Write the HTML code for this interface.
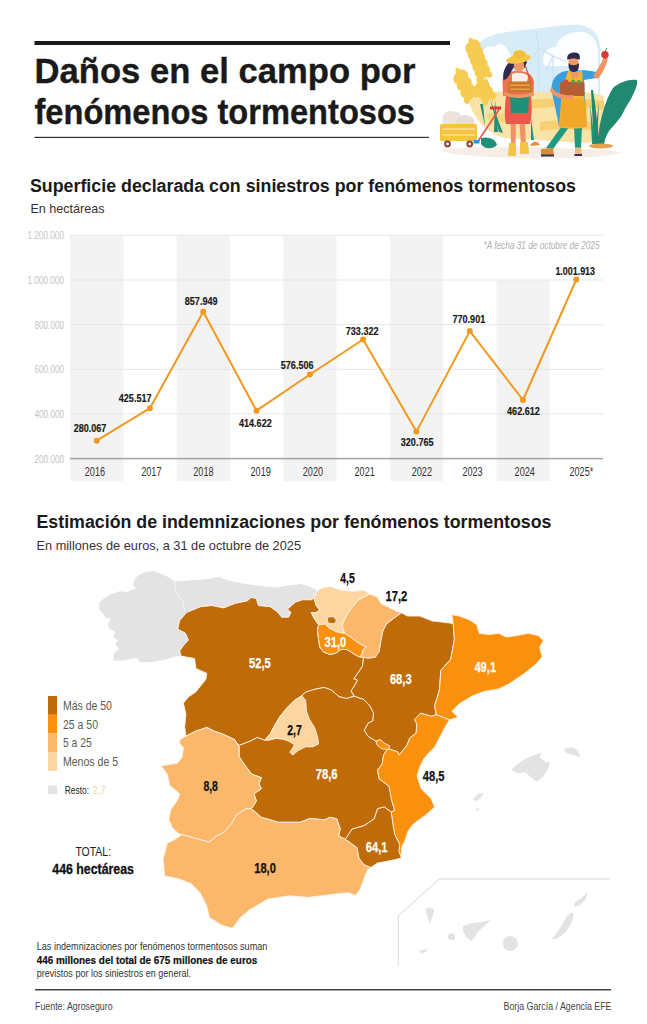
<!DOCTYPE html>
<html><head><meta charset="utf-8"><style>
html,body{margin:0;padding:0;background:#fff;overflow:hidden;width:647px;height:1024px;}
svg{display:block;}
text{font-family:"Liberation Sans", sans-serif;}
</style></head><body>
<svg width="647" height="1024" viewBox="0 0 647 1024" font-family='"Liberation Sans", sans-serif'>
<rect width="647" height="1024" fill="#fff"/>
<g id="illu">
<path d="M440,150 C470,146 520,146 560,148 C590,149 615,150 622,153 C600,158 560,159 520,158 C480,157 450,155 440,150 Z" fill="#f6ede6"/>
<path d="M479,44 C484,37 495,33 515,31 C540,29 562,24 580,25 C593,27 599,35 600,46 L600,98 L480,98 Z" fill="#d8ecf8"/>
<path d="M483,100 L482,56 C481,49 488,45 494,47 C498,42 507,44 508,52 C512,54 512,60 510,64 L506,100 Z" fill="#fdfeff"/>
<path d="M545,66 C540,57 546,47 556,47 C558,37 570,31 582,32 C594,33 599,44 598,56 L598,98 L578,98 L578,66 Z" fill="#fdfeff"/>
<g stroke="#c8e2f3" stroke-width="1.2" fill="none">
<line x1="538.5" y1="48" x2="538.5" y2="98"/><line x1="538.5" y1="48" x2="529" y2="66"/><line x1="538.5" y1="48" x2="553" y2="56"/><line x1="538.5" y1="48" x2="536" y2="31"/>
<line x1="553" y1="56" x2="553" y2="98"/><line x1="553" y1="56" x2="546" y2="71"/><line x1="553" y1="56" x2="566" y2="62"/>
</g>
<path d="M466,92 C472,120 488,134 505,138 L585,143 C600,141 606,132 605,118 L604,96 C585,90 560,90 530,93 C505,92 484,90 466,92 Z" fill="#f9e3a6"/>
<path d="M528,100 C555,97 585,98 604,101 L604,110 C580,106 555,106 528,109 Z" fill="#f6d073"/>
<path d="M540,122 C560,119 585,120 604,124 L602,132 C580,128 560,128 540,131 Z" fill="#f6d073"/>
<path d="M486,114 C500,113 512,114 520,116 L520,124 C505,122 495,122 490,123 Z" fill="#f7d57f"/>
<g id="wheat">
<ellipse cx="478.0" cy="60.0" rx="5.3" ry="19.3" transform="rotate(-21 478.0 60.0)" fill="#f5cb52"/>
<ellipse cx="476.2" cy="43.4" rx="3.3" ry="5.2" transform="rotate(-49 476.2 43.4)" fill="#f5cb52"/>
<ellipse cx="468.7" cy="48.0" rx="3.3" ry="5.2" transform="rotate(7 468.7 48.0)" fill="#f5cb52"/>
<ellipse cx="478.5" cy="49.4" rx="3.3" ry="5.2" transform="rotate(-49 478.5 49.4)" fill="#f5cb52"/>
<ellipse cx="471.0" cy="54.0" rx="3.3" ry="5.2" transform="rotate(7 471.0 54.0)" fill="#f5cb52"/>
<ellipse cx="480.8" cy="55.4" rx="3.3" ry="5.2" transform="rotate(-49 480.8 55.4)" fill="#f5cb52"/>
<ellipse cx="473.4" cy="60.0" rx="3.3" ry="5.2" transform="rotate(7 473.4 60.0)" fill="#f5cb52"/>
<ellipse cx="483.2" cy="61.4" rx="3.3" ry="5.2" transform="rotate(-49 483.2 61.4)" fill="#f5cb52"/>
<ellipse cx="475.7" cy="66.0" rx="3.3" ry="5.2" transform="rotate(7 475.7 66.0)" fill="#f5cb52"/>
<ellipse cx="485.5" cy="67.4" rx="3.3" ry="5.2" transform="rotate(-49 485.5 67.4)" fill="#f5cb52"/>
<ellipse cx="478.0" cy="72.0" rx="3.3" ry="5.2" transform="rotate(7 478.0 72.0)" fill="#f5cb52"/>
<ellipse cx="487.8" cy="73.4" rx="3.3" ry="5.2" transform="rotate(-49 487.8 73.4)" fill="#f5cb52"/>
<ellipse cx="480.4" cy="78.0" rx="3.3" ry="5.2" transform="rotate(7 480.4 78.0)" fill="#f5cb52"/>
<ellipse cx="471.4" cy="42.9" rx="2.6" ry="5.2" transform="rotate(-21 471.0 42.0)" fill="#f5cb52"/>
<ellipse cx="484.5" cy="91.0" rx="5.3" ry="10.5" transform="rotate(-31 484.5 91.0)" fill="#f5cb52"/>
<ellipse cx="484.5" cy="82.8" rx="3.3" ry="5.2" transform="rotate(-59 484.5 82.8)" fill="#f5cb52"/>
<ellipse cx="477.9" cy="88.5" rx="3.3" ry="5.2" transform="rotate(-3 477.9 88.5)" fill="#f5cb52"/>
<ellipse cx="488.2" cy="88.8" rx="3.3" ry="5.2" transform="rotate(-59 488.2 88.8)" fill="#f5cb52"/>
<ellipse cx="481.6" cy="94.5" rx="3.3" ry="5.2" transform="rotate(-3 481.6 94.5)" fill="#f5cb52"/>
<ellipse cx="491.8" cy="94.8" rx="3.3" ry="5.2" transform="rotate(-59 491.8 94.8)" fill="#f5cb52"/>
<ellipse cx="485.3" cy="100.5" rx="3.3" ry="5.2" transform="rotate(-3 485.3 100.5)" fill="#f5cb52"/>
<ellipse cx="479.5" cy="82.9" rx="2.6" ry="5.2" transform="rotate(-31 479.0 82.0)" fill="#f5cb52"/>
<ellipse cx="465.0" cy="85.5" rx="5.3" ry="15.2" transform="rotate(-27 465.0 85.5)" fill="#f5cb52"/>
<ellipse cx="463.6" cy="73.4" rx="3.3" ry="5.2" transform="rotate(-55 463.6 73.4)" fill="#f5cb52"/>
<ellipse cx="456.6" cy="78.7" rx="3.3" ry="5.2" transform="rotate(1 456.6 78.7)" fill="#f5cb52"/>
<ellipse cx="467.1" cy="80.1" rx="3.3" ry="5.2" transform="rotate(-55 467.1 80.1)" fill="#f5cb52"/>
<ellipse cx="460.1" cy="85.4" rx="3.3" ry="5.2" transform="rotate(1 460.1 85.4)" fill="#f5cb52"/>
<ellipse cx="470.6" cy="86.9" rx="3.3" ry="5.2" transform="rotate(-55 470.6 86.9)" fill="#f5cb52"/>
<ellipse cx="463.6" cy="92.2" rx="3.3" ry="5.2" transform="rotate(1 463.6 92.2)" fill="#f5cb52"/>
<ellipse cx="474.1" cy="93.6" rx="3.3" ry="5.2" transform="rotate(-55 474.1 93.6)" fill="#f5cb52"/>
<ellipse cx="467.1" cy="98.9" rx="3.3" ry="5.2" transform="rotate(1 467.1 98.9)" fill="#f5cb52"/>
<ellipse cx="458.5" cy="72.9" rx="2.6" ry="5.2" transform="rotate(-27 458.0 72.0)" fill="#f5cb52"/>
<path d="M486,78 C488,84 491,92 493,102" stroke="#f2c74a" stroke-width="1.4" fill="none"/></g>
<g fill="#21907a">
<path d="M480,104 L485,126 L483,104 Z"/><path d="M490,99 L503,133 L499,132 Z"/><path d="M495,100 L498,132 L494,132 Z"/>
<path d="M590,103 L595,144 L592,144 Z"/><path d="M599,101 L597,144 L594,144 Z"/>
<path d="M531,118 L534,140 L531,140 Z"/>
</g>
<path d="M443,125 C441,117 444,111 450,111 L458,112 C462,114 462,120 461,125 Z" fill="#ece4dd"/><path d="M456,125 C455,119 459,115 465,115 L470,116 C474,118 475,121 474,125 Z" fill="#e6ddd5"/>
<rect x="440" y="124" width="37" height="17" rx="1.5" fill="#f5c540"/>
<rect x="442" y="128" width="33" height="2" fill="#f9da80"/><rect x="442" y="134" width="33" height="2" fill="#f9da80"/>
<circle cx="447.5" cy="144" r="3.4" fill="#8b4a2c"/><circle cx="447.5" cy="144" r="1.4" fill="#fff"/>
<circle cx="469.7" cy="144" r="3.4" fill="#8b4a2c"/><circle cx="469.7" cy="144" r="1.4" fill="#fff"/>
<line x1="500" y1="108" x2="477.5" y2="142" stroke="#e0584a" stroke-width="1.6"/>
<rect x="490" y="106.5" width="11" height="3" fill="#d9393b"/>
<rect x="473.5" y="140" width="6" height="3.5" fill="#3e8ed6"/>
<path d="M481,138 C488,136 496,139 497,145 C492,150 484,149 481,144 Z" fill="#1f8f79"/>
<!-- woman -->
<path d="M510.5,124 L516,124 L515.5,146 L511,146 Z" fill="#ee9464"/>
<path d="M519.5,124 L525,124 L526,145 L521,145 Z" fill="#ee9464"/>
<path d="M509,143 L516,143 L516,156 L508,156 Z" fill="#f2c544"/>
<path d="M520,142 L528,142 L529,154 L520,154 Z" fill="#f2c544"/>
<path d="M506,96 L531,96 C532,108 532,116 530,124 L506,124 C504,116 505,105 506,96 Z" fill="#e9594b"/>
<path d="M510,96 L529,96 L528,113 L511,113 Z" fill="#20907a"/>
<path d="M502.5,82 C502,74 508,71 518,71 C528,71 533,75 534,82 L533.5,96 L503,96 Z" fill="#ec744f"/>
<path d="M503.5,80 C502,72 506,64 512,60 L518,59 C516,64 513,68 511,72 C509,76 507,79 503.5,80 Z" fill="#2f2b4e"/>
<path d="M511,62 C512,58 526,58 527,62 L525,67 C523,70 515,70 513,67 Z" fill="#2f2b4e"/><ellipse cx="519" cy="66" rx="5.3" ry="5.8" fill="#ef9766"/>
<ellipse cx="518.5" cy="59" rx="12.5" ry="4.4" transform="rotate(-10 518.5 59)" fill="#f5c746"/><ellipse cx="519.5" cy="54.5" rx="6.5" ry="4.3" fill="#f3bf3a"/>
<path d="M512,74 C516,72 524,72 528,76 L527,82 L512,82 Z" fill="#f7f1e8"/>
<rect x="508" y="81.5" width="24" height="11" rx="1" fill="#c9762c"/>
<rect x="510" y="84.5" width="20" height="1.5" fill="#e8a34a"/><rect x="510" y="88.5" width="20" height="1.5" fill="#e8a34a"/>
<path d="M504,92 C512,96 526,96 534,91 L534,95 C526,99 512,99 504,95 Z" fill="#ef9766"/>
<line x1="525" y1="65" x2="531" y2="82" stroke="#d24d3f" stroke-width="1.1"/>
<!-- man -->
<path d="M562,126 L570,126 L553,149 L546,148 Z" fill="#1f9a7e"/>
<path d="M574,126 L582,126 L581,148 L575,148 Z" fill="#1f9a7e"/>
<path d="M541,149 L553,148 L554,155 L541,156 Z" fill="#d98b3a"/>
<rect x="575" y="147.5" width="6.5" height="7.5" fill="#e9b98a"/>
<rect x="541" y="154.5" width="13" height="2" fill="#3c2f55"/><rect x="574.5" y="154" width="7.5" height="2" fill="#3c2f55"/>
<path d="M551.5,90 C551,78 558,71 570,70.5 C582,70 590,70 596,72 L596,78 L584,80 L586,126 L559,126 Z" fill="#3ba0d9"/>
<path d="M568,71 L582,71 L586,127 C580,129 566,129 559,127 L562,90 Z" fill="#f6b52d"/>
<path d="M562,100 C570,98 580,98 586,101 L587,127 L560,127 Z" fill="#f1a72a"/>
<path d="M570,71 L580,71 L578,78 L572,78 Z" fill="#ef9766"/>
<path d="M593,76 C597,70 601,64 604,57 L608,58.5 C606,66 603,73 598,79 Z" fill="#ef9464"/>
<circle cx="605" cy="54.8" r="3.7" fill="#d93a3a"/>
<path d="M605,51 L607,48" stroke="#2c8a4a" stroke-width="1"/>
<rect x="560" y="82" width="24.5" height="14" rx="1.5" fill="#b25e33"/>
<circle cx="566" cy="82" r="2.6" fill="#d9463a"/><circle cx="573" cy="81.5" r="2" fill="#58a048"/><circle cx="579" cy="82" r="2" fill="#5aa04a"/>
<path d="M552,87 C555,94 566,96 574,95 L573,99 C563,100 552,97 550,90 Z" fill="#ef9464"/>
<ellipse cx="573.5" cy="62" rx="5" ry="5.5" fill="#ef9766"/>
<path d="M568.5,63 C568,70 571,72 574,72 C578,72 579,69 579,63 C576,66 571,66 568.5,63 Z" fill="#2f2b4e"/>
<path d="M567.5,60 C566,54 571,52 575,52.5 C580,53 580.5,56 579.5,60 C576,58 571,58 567.5,60 Z" fill="#2f2b4e"/>
<!-- big leaf -->
<path d="M597,146 C599,124 604,102 613,88 C620,82 629,79 637,80 C638,86 634,92 631,99 C628,104 625,108 623,113 C620,119 613,126 609,131 C606,136 604,141 604,146 Z" fill="#20896f"/>
<path d="M594,146 C593,128 592,108 591,90 L593,90 C596,108 598,128 599,146 Z" fill="#20896f"/>
<ellipse cx="601" cy="146" rx="12" ry="2.5" fill="#e9a04c"/>
<circle cx="536" cy="142" r="3" fill="#eeeeee"/><path d="M530,146 C532,141 538,141 540,145 Z" fill="#e88a3a"/>
</g>


<rect x="34.5" y="41" width="415.5" height="4" fill="#1a1a1a"/>
<text x="34.5" y="83.4" font-size="35" font-weight="bold" fill="#1a1a1a" stroke="#1a1a1a" stroke-width="0.35" textLength="381" lengthAdjust="spacingAndGlyphs">Daños en el campo por</text>
<text x="34.5" y="124.2" font-size="35" font-weight="bold" fill="#1a1a1a" stroke="#1a1a1a" stroke-width="0.35" textLength="380.5" lengthAdjust="spacingAndGlyphs">fenómenos tormentosos</text>
<rect x="34.5" y="136.8" width="394.5" height="1.2" fill="#333"/>
<text x="30" y="192.4" font-size="18" font-weight="bold" fill="#1a1a1a" textLength="546" lengthAdjust="spacingAndGlyphs">Superficie declarada con siniestros por fenómenos tormentosos</text>
<text x="30.4" y="213" font-size="12.6" fill="#333" textLength="74.2" lengthAdjust="spacingAndGlyphs">En hectáreas</text><rect x="70.0" y="235.3" width="53.3" height="245.7" fill="#f3f3f3"/><rect x="176.6" y="235.3" width="53.3" height="245.7" fill="#f3f3f3"/><rect x="283.2" y="235.3" width="53.3" height="245.7" fill="#f3f3f3"/><rect x="389.8" y="235.3" width="53.3" height="245.7" fill="#f3f3f3"/><rect x="496.4" y="280.5" width="53.3" height="200.5" fill="#f3f3f3"/><rect x="70.0" y="234.8" width="533" height="1" fill="#e6e6e6"/><rect x="70.0" y="279.5" width="533" height="1" fill="#e6e6e6"/><rect x="70.0" y="324.1" width="533" height="1" fill="#e6e6e6"/><rect x="70.0" y="368.8" width="533" height="1" fill="#e6e6e6"/><rect x="70.0" y="413.4" width="533" height="1" fill="#e6e6e6"/><text x="27.4" y="239.3" font-size="11" fill="#c4c4c4" textLength="36.6" lengthAdjust="spacingAndGlyphs">1.200.000</text><text x="27.4" y="284.0" font-size="11" fill="#c4c4c4" textLength="36.6" lengthAdjust="spacingAndGlyphs">1.000.000</text><text x="34.5" y="328.6" font-size="11" fill="#c4c4c4" textLength="29.5" lengthAdjust="spacingAndGlyphs">800.000</text><text x="34.5" y="373.3" font-size="11" fill="#c4c4c4" textLength="29.5" lengthAdjust="spacingAndGlyphs">600.000</text><text x="34.5" y="417.9" font-size="11" fill="#c4c4c4" textLength="29.5" lengthAdjust="spacingAndGlyphs">400.000</text><text x="34.5" y="462.6" font-size="11" fill="#c4c4c4" textLength="29.5" lengthAdjust="spacingAndGlyphs">200.000</text><rect x="70.0" y="457.8" width="533" height="1.6" fill="#a8a8a8"/><text x="599.5" y="248.5" font-size="10" font-style="italic" fill="#b0b0b0" text-anchor="end" textLength="116" lengthAdjust="spacingAndGlyphs">*A fecha 31 de octubre de 2025</text><polyline points="96.7,440.7 149.9,408.2 203.2,311.7 256.5,410.7 309.9,374.5 363.1,339.5 416.4,431.6 469.8,331.1 523.0,400.0 576.3,279.5" fill="none" stroke="#f2981f" stroke-width="2" stroke-linejoin="round"/><circle cx="96.7" cy="440.7" r="3" fill="#f2981f"/><circle cx="149.9" cy="408.2" r="3" fill="#f2981f"/><circle cx="203.2" cy="311.7" r="3" fill="#f2981f"/><circle cx="256.5" cy="410.7" r="3" fill="#f2981f"/><circle cx="309.9" cy="374.5" r="3" fill="#f2981f"/><circle cx="363.1" cy="339.5" r="3" fill="#f2981f"/><circle cx="416.4" cy="431.6" r="3" fill="#f2981f"/><circle cx="469.8" cy="331.1" r="3" fill="#f2981f"/><circle cx="523.0" cy="400.0" r="3" fill="#f2981f"/><circle cx="576.3" cy="279.5" r="3" fill="#f2981f"/><text x="84.8" y="475.5" font-size="12.3" fill="#333" textLength="20.3" lengthAdjust="spacingAndGlyphs">2016</text><text x="141.2" y="475.5" font-size="12.3" fill="#333" textLength="20.3" lengthAdjust="spacingAndGlyphs">2017</text><text x="193.3" y="475.5" font-size="12.3" fill="#333" textLength="20.3" lengthAdjust="spacingAndGlyphs">2018</text><text x="250.5" y="475.5" font-size="12.3" fill="#333" textLength="20.3" lengthAdjust="spacingAndGlyphs">2019</text><text x="302.8" y="475.5" font-size="12.3" fill="#333" textLength="20.3" lengthAdjust="spacingAndGlyphs">2020</text><text x="354.5" y="475.5" font-size="12.3" fill="#333" textLength="20.3" lengthAdjust="spacingAndGlyphs">2021</text><text x="411.7" y="475.5" font-size="12.3" fill="#333" textLength="20.3" lengthAdjust="spacingAndGlyphs">2022</text><text x="462.4" y="475.5" font-size="12.3" fill="#333" textLength="20.3" lengthAdjust="spacingAndGlyphs">2023</text><text x="514.6" y="475.5" font-size="12.3" fill="#333" textLength="20.3" lengthAdjust="spacingAndGlyphs">2024</text><text x="569.5" y="475.5" font-size="12.3" fill="#333" textLength="23.8" lengthAdjust="spacingAndGlyphs">2025*</text><text x="73.7" y="432.3" font-size="11.2" font-weight="bold" fill="#1a1a1a" stroke="#1a1a1a" stroke-width="0.2" textLength="32.7" lengthAdjust="spacingAndGlyphs">280.067</text><text x="118.8" y="402.3" font-size="11.2" font-weight="bold" fill="#1a1a1a" stroke="#1a1a1a" stroke-width="0.2" textLength="32.7" lengthAdjust="spacingAndGlyphs">425.517</text><text x="184.8" y="304.7" font-size="11.2" font-weight="bold" fill="#1a1a1a" stroke="#1a1a1a" stroke-width="0.2" textLength="32.7" lengthAdjust="spacingAndGlyphs">857.949</text><text x="239.0" y="427.1" font-size="11.2" font-weight="bold" fill="#1a1a1a" stroke="#1a1a1a" stroke-width="0.2" textLength="32.7" lengthAdjust="spacingAndGlyphs">414.622</text><text x="280.8" y="369" font-size="11.2" font-weight="bold" fill="#1a1a1a" stroke="#1a1a1a" stroke-width="0.2" textLength="32.7" lengthAdjust="spacingAndGlyphs">576.506</text><text x="345.8" y="334.6" font-size="11.2" font-weight="bold" fill="#1a1a1a" stroke="#1a1a1a" stroke-width="0.2" textLength="32.7" lengthAdjust="spacingAndGlyphs">733.322</text><text x="400.8" y="446" font-size="11.2" font-weight="bold" fill="#1a1a1a" stroke="#1a1a1a" stroke-width="0.2" textLength="32.7" lengthAdjust="spacingAndGlyphs">320.765</text><text x="452.5" y="322.7" font-size="11.2" font-weight="bold" fill="#1a1a1a" stroke="#1a1a1a" stroke-width="0.2" textLength="32.7" lengthAdjust="spacingAndGlyphs">770.901</text><text x="507.1" y="415.1" font-size="11.2" font-weight="bold" fill="#1a1a1a" stroke="#1a1a1a" stroke-width="0.2" textLength="32.7" lengthAdjust="spacingAndGlyphs">462.612</text><text x="555.4" y="274.9" font-size="11.2" font-weight="bold" fill="#1a1a1a" stroke="#1a1a1a" stroke-width="0.2" textLength="39.6" lengthAdjust="spacingAndGlyphs">1.001.913</text><text x="36.5" y="528.2" font-size="18" font-weight="bold" fill="#1a1a1a" textLength="515" lengthAdjust="spacingAndGlyphs">Estimación de indemnizaciones por fenómenos tormentosos</text>
<text x="36.5" y="550" font-size="12.6" fill="#333" textLength="264.5" lengthAdjust="spacingAndGlyphs">En millones de euros, a 31 de octubre de 2025</text><g stroke="#fdf3e6" stroke-width="0.9" stroke-linejoin="round"><polygon points="98.5,609.5 99.2,602.6 103.3,598.4 110.3,594.2 120.0,590.7 127.0,591.4 135.3,588.6 132.6,584.5 133.9,580.3 136.7,576.1 140.9,573.3 146.5,571.3 153.4,570.6 160.4,573.3 167.3,576.1 175.3,581.0 188.9,580.1 205.1,578.9 219.1,576.6 228.3,580.1 244.6,583.5 263.1,585.9 277.0,587.0 290.9,584.7 300.2,583.5 309.5,585.9 317.8,590.4 314.1,597.8 311.8,599.8 302.5,599.8 295.6,602.1 287.5,609.1 290.9,612.5 288.6,617.2 281.7,617.2 277.0,611.4 270.1,606.7 258.5,605.6 256.2,598.6 251.5,597.5 246.9,601.0 235.3,603.3 223.7,607.9 212.1,605.6 200.5,606.7 186.6,612.5 179.6,620.6 177.8,629.2 185.2,633.0 188.4,640.0 183.0,646.0 179.7,651.1 181.0,656.1 173.5,657.3 167.3,659.6 153.4,662.4 139.5,662.4 136.7,658.2 122.8,661.0 113.1,661.0 113.1,654.0 118.6,648.5 114.5,644.3 117.3,640.1 113.1,637.3 114.5,631.8 108.9,629.0 107.5,623.4 110.3,619.2 104.7,617.9 103.3,613.7" fill="#e3e3e3" stroke="#fff"/><polygon points="179.7,651.1 183.0,646.0 188.4,640.0 185.2,633.0 177.8,629.2 179.6,620.6 186.6,612.5 200.5,606.7 212.1,605.6 223.7,607.9 235.3,603.3 246.9,601.0 251.5,597.5 256.2,598.6 258.5,605.6 270.1,606.7 277.0,611.4 281.7,617.2 288.6,617.2 290.9,612.5 287.5,609.1 295.6,602.1 302.5,599.8 311.8,599.8 314.1,597.8 316.0,605.2 319.7,609.9 316.0,612.7 311.3,612.7 314.1,618.2 318.6,624.7 317.4,629.7 318.6,639.6 319.8,647.0 323.5,651.9 329.7,654.4 335.9,653.2 340.9,649.5 347.0,649.5 354.5,654.4 359.4,656.9 363.7,656.4 362.5,666.3 353.9,678.7 357.6,680.0 355.7,683.7 351.1,691.1 354.3,696.2 346.4,698.5 339.0,696.7 331.6,690.2 324.2,687.4 314.9,689.3 305.6,692.1 301.9,695.8 294.5,700.4 287.1,707.8 279.7,717.1 274.1,726.4 270.4,733.8 264.8,740.3 257.4,737.5 250.0,741.2 239.1,745.5 236.7,743.1 234.2,739.3 221.8,733.7 214.4,731.2 206.9,727.5 195.8,731.2 185.9,736.1 184.7,726.6 185.9,714.2 183.4,703.1 188.4,696.9 195.8,691.9 205.7,679.6 206.9,673.4 195.8,668.4 194.6,658.5 181.0,656.1" fill="#c06b0a"/><polygon points="234.2,739.3 236.7,743.1 239.1,745.5 250.0,741.2 257.4,737.5 264.8,740.3 270.4,733.8 274.1,726.4 279.7,717.1 287.1,707.8 294.5,700.4 301.9,695.8 305.6,692.1 314.9,689.3 324.2,687.4 331.6,690.2 339.0,696.7 346.4,698.5 354.3,696.2 363.5,699.3 369.7,705.5 373.6,713.2 372.8,720.9 368.2,723.2 364.3,730.2 368.2,736.4 375.9,741.0 380.5,741.0 388.3,748.7 386.7,750.3 383.6,754.9 382.1,764.2 377.5,770.0 379.2,778.9 389.1,786.3 391.6,796.2 391.2,798.5 394.6,810.4 391.2,812.1 384.4,807.0 377.6,808.7 374.2,818.9 364.0,825.7 352.1,829.1 345.3,839.3 338.5,835.9 340.2,829.1 336.8,818.9 330.0,817.2 324.7,819.8 309.9,818.5 300.0,822.3 278.6,822.3 261.3,817.3 251.4,808.7 256.4,801.2 254.0,793.7 261.4,788.8 258.9,783.9 261.4,777.7 251.5,774.0 244.1,764.1 239.1,756.7 239.1,746.8" fill="#c06b0a"/><polygon points="401.3,612.7 407.4,616.0 419.8,616.0 432.1,620.9 442.0,622.1 453.2,623.4 454.4,639.5 450.7,659.2 440.8,670.4 439.6,688.9 437.7,696.2 434.6,705.5 436.2,714.7 431.6,716.3 420.7,713.2 414.6,719.4 416.9,724.0 416.1,733.3 409.9,737.9 406.8,745.6 399.1,754.9 397.6,751.8 388.3,748.7 380.5,741.0 375.9,741.0 368.2,736.4 364.3,730.2 368.2,723.2 372.8,720.9 373.6,713.2 369.7,705.5 363.5,699.3 354.3,696.2 351.1,691.1 355.7,683.7 357.6,680.0 353.9,678.7 362.5,666.3 363.7,656.4 367.9,658.1 375.3,657.2 379.0,651.6 380.9,640.5 382.7,631.2 386.4,623.8 393.9,618.2" fill="#c06b0a"/><polygon points="317.8,590.4 323.4,587.6 330.8,586.7 341.9,590.4 353.1,591.3 364.2,590.4 369.7,594.1 358.2,600.0 352.0,607.4 347.0,614.8 342.1,624.7 344.6,633.4 337.1,632.1 329.7,628.4 324.8,624.1 318.6,624.7 314.1,618.2 311.3,612.7 316.0,612.7 319.7,609.9 316.0,605.2 314.1,597.8" fill="#fcd5a0"/><polygon points="327.1,617.3 333.0,616.5 336.4,620.0 335.0,623.8 328.0,623.0" fill="#c06b0a"/><polygon points="369.7,594.1 377.2,596.9 380.9,603.4 388.3,607.1 397.6,611.7 401.3,612.7 393.9,618.2 386.4,623.8 382.7,631.2 380.9,640.5 379.0,651.6 375.3,657.2 367.9,658.1 359.4,656.9 361.9,654.4 363.1,649.5 366.2,647.0 363.1,645.7 356.9,642.0 350.7,637.1 344.6,633.4 342.1,624.7 347.0,614.8 352.0,607.4 358.2,600.0" fill="#fbb86a"/><polygon points="318.6,624.7 324.8,624.1 329.7,628.4 337.1,632.1 344.6,633.4 350.7,637.1 356.9,642.0 363.1,645.7 366.2,647.0 363.1,649.5 361.9,654.4 359.4,656.9 354.5,654.4 347.0,649.5 340.9,649.5 335.9,653.2 329.7,654.4 323.5,651.9 319.8,647.0 318.6,639.6 317.4,629.7" fill="#fa910e"/><polygon points="451.9,614.7 459.3,616.0 469.2,619.7 476.7,624.6 479.1,633.3 489.0,634.5 498.9,633.3 506.3,637.0 516.2,635.7 528.6,633.3 538.5,635.7 543.4,640.7 539.7,646.9 542.2,656.8 536.0,664.2 523.6,674.1 508.8,684.0 498.9,688.9 484.1,691.4 471.7,696.3 459.3,703.7 451.9,711.2 458.1,717.3 449.5,719.8 436.2,714.7 434.6,705.5 437.7,696.2 439.6,688.9 440.8,670.4 450.7,659.2 454.4,639.5 453.2,623.4" fill="#fa910e"/><polygon points="436.2,714.7 449.5,719.8 445.0,727.1 440.0,737.0 434.6,747.2 428.5,753.0 423.0,760.0 419.5,768.0 417.0,776.0 421.3,788.8 431.2,798.7 434.6,807.0 425.2,815.5 413.3,824.0 408.2,830.8 404.8,841.0 401.4,847.8 401.4,858.0 398.9,851.2 399.7,844.4 394.6,834.2 392.9,824.0 391.2,812.1 394.6,810.4 391.2,798.5 389.1,786.3 379.2,778.9 377.5,770.0 382.1,764.2 383.6,754.9 386.7,750.3 388.3,748.7 397.6,751.8 399.1,754.9 406.8,745.6 409.9,737.9 416.1,733.3 416.9,724.0 414.6,719.4 420.7,713.2 431.6,716.3" fill="#fa910e"/><polygon points="375.9,741.0 380.5,739.5 384.0,743.0 389.8,746.0 388.3,749.5 382.0,749.0 377.0,745.0" fill="#fa910e"/><polygon points="264.8,740.3 270.4,733.8 274.1,726.4 279.7,717.1 287.1,707.8 294.5,700.4 301.9,695.8 305.6,700.4 306.6,711.5 309.3,718.9 314.9,728.2 317.7,737.5 318.6,744.0 313.1,746.8 305.6,746.8 298.2,750.5 292.7,755.1 289.9,752.3 294.5,744.9 288.9,741.2 283.4,739.3 276.0,738.4 268.5,740.3" fill="#fcd5a0"/><polygon points="185.9,736.1 195.8,731.2 206.9,727.5 214.4,731.2 221.8,733.7 234.2,739.3 239.1,746.8 239.1,756.7 244.1,764.1 251.5,774.0 261.4,777.7 258.9,783.9 261.4,788.8 254.0,793.7 256.4,801.2 251.4,808.7 246.4,808.7 236.5,814.8 231.6,823.5 224.2,832.1 216.8,835.9 209.3,842.0 199.5,839.6 182.1,834.6 178.5,833.8 172.3,827.6 168.6,819.0 171.1,809.1 177.3,800.4 179.7,794.2 176.0,790.5 169.8,785.6 167.4,774.5 161.2,765.8 177.3,763.3 182.2,757.1 183.4,747.3 179.7,743.5 179.7,739.8" fill="#fbb86a"/><polygon points="182.1,834.6 199.5,839.6 209.3,842.0 216.8,835.9 224.2,832.1 231.6,823.5 236.5,814.8 246.4,808.7 251.4,808.7 261.3,817.3 278.6,822.3 300.0,822.3 309.9,818.5 324.7,819.8 330.0,817.2 336.8,818.9 340.2,829.1 338.5,835.9 345.3,839.3 350.4,842.7 357.2,847.8 358.9,858.0 364.0,864.8 370.8,867.4 367.4,869.9 364.0,878.4 360.6,888.6 355.5,895.4 348.6,892.7 333.1,894.3 308.4,897.4 289.8,895.8 268.2,898.9 249.6,909.7 240.4,917.5 232.6,928.3 221.8,925.2 209.5,917.5 206.4,905.1 200.2,892.7 190.9,883.5 178.5,878.8 164.6,875.7 163.1,858.7 167.3,843.3 174.7,839.6" fill="#fbb86a"/><polygon points="345.3,839.3 352.1,829.1 364.0,825.7 374.2,818.9 377.6,808.7 384.4,807.0 391.2,812.1 392.9,824.0 394.6,834.2 399.7,844.4 398.9,851.2 401.4,858.0 394.6,859.7 386.1,861.4 377.6,863.1 370.8,867.4 364.0,864.8 358.9,858.0 357.2,847.8 350.4,842.7" fill="#c06b0a"/></g><polyline points="174,581 175.5,592 183,601 184.5,611" fill="none" stroke="#fff" stroke-width="0.7"/><g fill="#e3e3e3"><polygon points="511.9,769.0 522.8,760.3 531.4,756.0 541.2,752.7 540.0,757.0 545.5,762.5 549.8,761.4 548.7,767.9 543.3,776.5 536.8,782.0 531.4,777.6 524.9,772.2 517.3,773.3 513.0,771.1"/><polygon points="563.9,748.4 572.5,747.3 577.9,750.6 580.1,757.0 572.5,754.9 566.0,752.7"/><polygon points="473.0,799.2 478.4,793.8 483.8,792.8 480.6,798.2 475.1,801.4"/><polygon points="476.0,809.0 478.5,808.0 479.0,810.5 476.5,811.0"/></g><polyline points="398.3,966 398.3,916 439.1,879 610.4,879" fill="none" stroke="#d2d2d2" stroke-width="0.9"/><g fill="#e3e3e3"><polygon points="425.5,909.0 430.0,907.3 434.4,910.0 432.0,918.0 430.0,923.3 427.0,916.0"/><polygon points="418.4,951.0 423.0,950.0 427.3,948.2 426.0,952.0 421.0,953.5"/><circle cx="451.5" cy="936.8" r="3.5"/><polygon points="463.0,926.0 472.0,923.0 482.0,922.0 491.3,919.8 484.0,926.0 477.0,933.0 472.0,941.0 466.0,937.0 463.0,931.0"/><circle cx="510.2" cy="943.5" r="7.6"/><polygon points="571.3,912.7 574.0,913.0 572.0,922.0 566.0,932.0 558.0,938.0 551.7,939.3 556.0,934.0 562.0,925.0 567.0,916.0"/><polygon points="580.0,899.0 585.0,895.0 587.3,891.3 586.0,899.0 580.0,905.0 574.0,907.3 575.0,902.0"/></g><text x="340.2" y="583.2" font-size="14" font-weight="bold" fill="#111" stroke="#111" stroke-width="0.25" textLength="14.5" lengthAdjust="spacingAndGlyphs">4,5</text><text x="385.6" y="600.9" font-size="14" font-weight="bold" fill="#111" stroke="#111" stroke-width="0.25" textLength="21.7" lengthAdjust="spacingAndGlyphs">17,2</text><text x="324.5" y="647.4" font-size="14" font-weight="bold" fill="#fff" stroke="#fff" stroke-width="0.25" textLength="21.7" lengthAdjust="spacingAndGlyphs">31,0</text><text x="249.0" y="667.5" font-size="14" font-weight="bold" fill="#fff" stroke="#fff" stroke-width="0.25" textLength="21.7" lengthAdjust="spacingAndGlyphs">52,5</text><text x="389.9" y="683.6" font-size="14" font-weight="bold" fill="#fff" stroke="#fff" stroke-width="0.25" textLength="21.7" lengthAdjust="spacingAndGlyphs">68,3</text><text x="474.4" y="671.6" font-size="14" font-weight="bold" fill="#fff" stroke="#fff" stroke-width="0.25" textLength="21.7" lengthAdjust="spacingAndGlyphs">49,1</text><text x="287.2" y="735.0" font-size="14" font-weight="bold" fill="#111" stroke="#111" stroke-width="0.25" textLength="14.5" lengthAdjust="spacingAndGlyphs">2,7</text><text x="315.8" y="778.7" font-size="14" font-weight="bold" fill="#fff" stroke="#fff" stroke-width="0.25" textLength="21.7" lengthAdjust="spacingAndGlyphs">78,6</text><text x="203.4" y="791.2" font-size="14" font-weight="bold" fill="#111" stroke="#111" stroke-width="0.25" textLength="14.5" lengthAdjust="spacingAndGlyphs">8,8</text><text x="422.8" y="781.3" font-size="14" font-weight="bold" fill="#111" stroke="#111" stroke-width="0.25" textLength="21.7" lengthAdjust="spacingAndGlyphs">48,5</text><text x="365.8" y="851.9" font-size="14" font-weight="bold" fill="#fff" stroke="#fff" stroke-width="0.25" textLength="21.7" lengthAdjust="spacingAndGlyphs">64,1</text><text x="254.2" y="872.9" font-size="14" font-weight="bold" fill="#111" stroke="#111" stroke-width="0.25" textLength="21.7" lengthAdjust="spacingAndGlyphs">18,0</text><rect x="48" y="696.0" width="9" height="18.8" fill="#c06b0a"/><rect x="48" y="714.7" width="9" height="18.8" fill="#fa910e"/><rect x="48" y="733.4" width="9" height="18.8" fill="#fbb86a"/><rect x="48" y="752.1" width="9" height="18.8" fill="#fcd5a0"/><text x="62.9" y="710.0" font-size="12.6" fill="#5a5a5a" textLength="49" lengthAdjust="spacingAndGlyphs">Más de 50</text><text x="62.9" y="728.7" font-size="12.6" fill="#5a5a5a" textLength="35.1" lengthAdjust="spacingAndGlyphs">25 a 50</text><text x="62.9" y="747.4" font-size="12.6" fill="#5a5a5a" textLength="28.9" lengthAdjust="spacingAndGlyphs">5 a 25</text><text x="62.9" y="766.1" font-size="12.6" fill="#5a5a5a" textLength="55.2" lengthAdjust="spacingAndGlyphs">Menos de 5</text><rect x="48" y="785.5" width="9" height="8.5" fill="#e3e3e3"/><text x="64.7" y="793.5" font-size="10" fill="#222" textLength="24.4" lengthAdjust="spacingAndGlyphs">Resto:</text><text x="92.5" y="793.5" font-size="10.5" fill="#f8d3a8" textLength="13.2" lengthAdjust="spacingAndGlyphs">2,7</text><text x="75.4" y="856.4" font-size="13.6" fill="#222" textLength="35.7" lengthAdjust="spacingAndGlyphs">TOTAL:</text><text x="52.3" y="874.4" font-size="14.3" font-weight="bold" fill="#111" stroke="#111" stroke-width="0.3" textLength="81.6" lengthAdjust="spacingAndGlyphs">446 hectáreas</text><text x="36.7" y="950.1" font-size="10.6" fill="#333" textLength="230.7" lengthAdjust="spacingAndGlyphs">Las indemnizaciones por fenómenos tormentosos suman</text><text x="36.7" y="964.2" font-size="10.8" font-weight="bold" fill="#111" stroke="#111" stroke-width="0.2" textLength="220.6" lengthAdjust="spacingAndGlyphs">446 millones del total de 675 millones de euros</text><text x="36.7" y="977.4" font-size="10.6" fill="#333" textLength="154.3" lengthAdjust="spacingAndGlyphs">previstos por los siniestros en general.</text><rect x="35" y="989" width="576" height="1.5" fill="#444"/><text x="35" y="1010" font-size="10.3" fill="#444" textLength="77.6" lengthAdjust="spacingAndGlyphs">Fuente: Agroseguro</text><text x="611.5" y="1010" font-size="10.3" fill="#444" text-anchor="end" textLength="108" lengthAdjust="spacingAndGlyphs">Borja García / Agencia EFE</text>
</svg>
</body></html>
